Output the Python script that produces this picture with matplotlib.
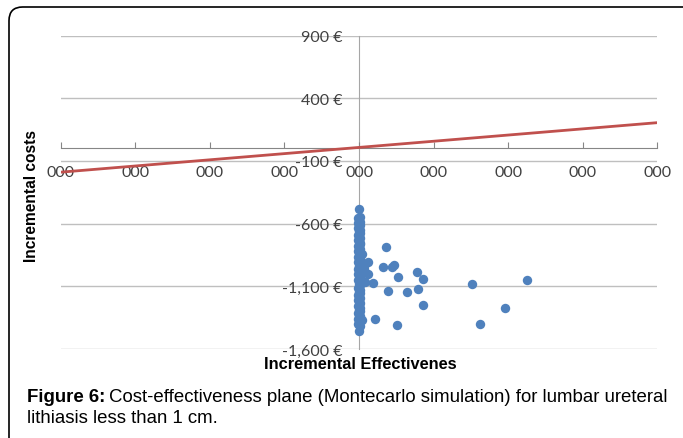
import matplotlib
matplotlib.use("Agg")
import matplotlib.pyplot as plt
from matplotlib.patches import FancyBboxPatch

# x ticks (labels printed as "000" in the original)
x_ticks = [-4, -3, -2, -1, 0, 1, 2, 3, 4]
x_labels = ["000"] * 9
y_ticks = [-1600, -1100, -600, -100, 400, 900]
y_labels = ["-1,600 €", "-1,100 €", "-600 €", "-100 €", "400 €", "900 €"]

# willingness-to-pay threshold line
line_x = [-4, 4]
line_y = [-190, 205]

# simulations stacked on the vertical axis
band_eff = [0.0, 0.01, -0.01, 0.0, 0.01, -0.01, 0.01, 0.0, -0.01, 0.01,
            0.0, 0.01, -0.01, 0.0, 0.01, -0.01, 0.0, 0.01, 0.01, -0.01,
            0.0, 0.01, -0.01, 0.0, 0.01, 0.0, -0.01, 0.01, 0.0, -0.01,
            0.01, 0.0, 0.01, -0.01, 0.0, 0.01, -0.01, 0.0, 0.01, 0.0,
            -0.01, 0.01, 0.0, 0.01, 0.0, -0.01, 0.01, 0.0, 0.01, -0.01,
            0.0, 0.01, -0.01, 0.0, 0.01, 0.0, -0.01, 0.01, 0.0, 0.01,
            -0.01, 0.0, 0.01, 0.0, -0.01, 0.01, 0.0, -0.01, 0.01, 0.0]
band_cost = [-486, -545, -558, -571, -584, -597, -610, -623, -636, -649,
             -662, -675, -688, -701, -714, -727, -740, -753, -766, -779,
             -792, -805, -818, -831, -844, -857, -870, -883, -896, -909,
             -922, -935, -948, -961, -974, -987, -1000, -1013, -1026, -1039,
             -1052, -1065, -1078, -1091, -1104, -1117, -1130, -1143, -1156, -1169,
             -1182, -1195, -1208, -1221, -1234, -1247, -1260, -1273, -1286, -1299,
             -1312, -1325, -1338, -1351, -1364, -1377, -1390, -1403, -1416, -1460]

# scattered simulations
pts_eff = [0.36, 0.12, 0.04, 0.32, 0.44, 0.47, 0.52, 0.77, 0.86, 1.52,
           2.25, 0.19, 0.12, 0.08, 0.39, 0.64, 0.79, 0.86, 1.96, 1.62,
           0.51, 0.21, 0.04, 0.08, 0.06]
pts_cost = [-785, -905, -839, -945, -945, -927, -1023, -985, -1044, -1084,
            -1049, -1071, -999, -1065, -1137, -1145, -1119, -1252, -1273, -1401,
            -1412, -1358, -1372, -919, -960]

W, H = 683, 439
fig = plt.figure(figsize=(W / 100, H / 100), dpi=100)
ax = fig.add_axes([60.7 / W, (H - 350) / H, 596.8 / W, 313.5 / H])
ax.set_xlim(-4, 4)
ax.set_ylim(-1600, 900)

for yv in y_ticks:
    ax.axhline(yv, color="#BFBFBF", lw=1.0, zorder=0)

ax.plot(line_x, line_y, color="#C0504D", lw=2.0, zorder=3)
ax.scatter(band_eff, band_cost, s=46, color="#4F81BD", zorder=4, linewidths=0)
ax.scatter(pts_eff, pts_cost, s=46, color="#4F81BD", zorder=4, linewidths=0)

for side in ["top", "right"]:
    ax.spines[side].set_visible(False)
ax.spines["bottom"].set_position(("data", 0))
ax.spines["left"].set_position(("data", 0))
ax.spines["bottom"].set_color("#868686")
ax.spines["left"].set_color("#A6A6A6")
ax.spines["bottom"].set_zorder(1)
ax.spines["left"].set_zorder(1)

ax.set_xticks(x_ticks)
ax.set_xticklabels(x_labels, fontfamily="Lato", fontsize=11.5, color="#404040")
ax.tick_params(axis="x", direction="in", length=4, color="#868686", pad=12)
ax.set_yticks(y_ticks)
ax.set_yticklabels(y_labels, fontfamily="Lato", fontsize=11.5, color="#404040")
ax.tick_params(axis="y", length=0, pad=12)

fig.text(32 / W, 1 - 196 / H, "Incremental costs", rotation=90, ha="center",
         va="center", fontsize=11.2, fontweight="bold", fontfamily="Liberation Sans")
fig.text(360 / W, 1 - 365 / H, "Incremental Effectivenes", ha="center",
         va="center", fontsize=11.8, fontweight="bold", fontfamily="Liberation Sans")

# caption with bold prefix
fig.canvas.draw()
r = fig.canvas.get_renderer()
t1 = fig.text(27 / W, 1 - 398 / H, "Figure 6:", fontsize=13.4, fontweight="bold",
              fontfamily="Liberation Sans", va="center")
bb = t1.get_window_extent(renderer=r)
fig.text(bb.x1 / W + 4 / W, 1 - 398 / H,
         "Cost-effectiveness plane (Montecarlo simulation) for lumbar ureteral",
         fontsize=13.4, fontfamily="Liberation Sans", va="center")
fig.text(27 / W, 1 - 419 / H, "lithiasis less than 1 cm.", fontsize=13.4,
         fontfamily="Liberation Sans", va="center")

box = FancyBboxPatch((9 / W, -30 / H), 720 / W, 461 / H,
                     boxstyle="round,pad=0,rounding_size=0.02",
                     transform=fig.transFigure, fill=False, ec="black", lw=1.2,
                     clip_on=False, mutation_aspect=W / H)
fig.patches.append(box)

fig.savefig("out.png", dpi=100)
